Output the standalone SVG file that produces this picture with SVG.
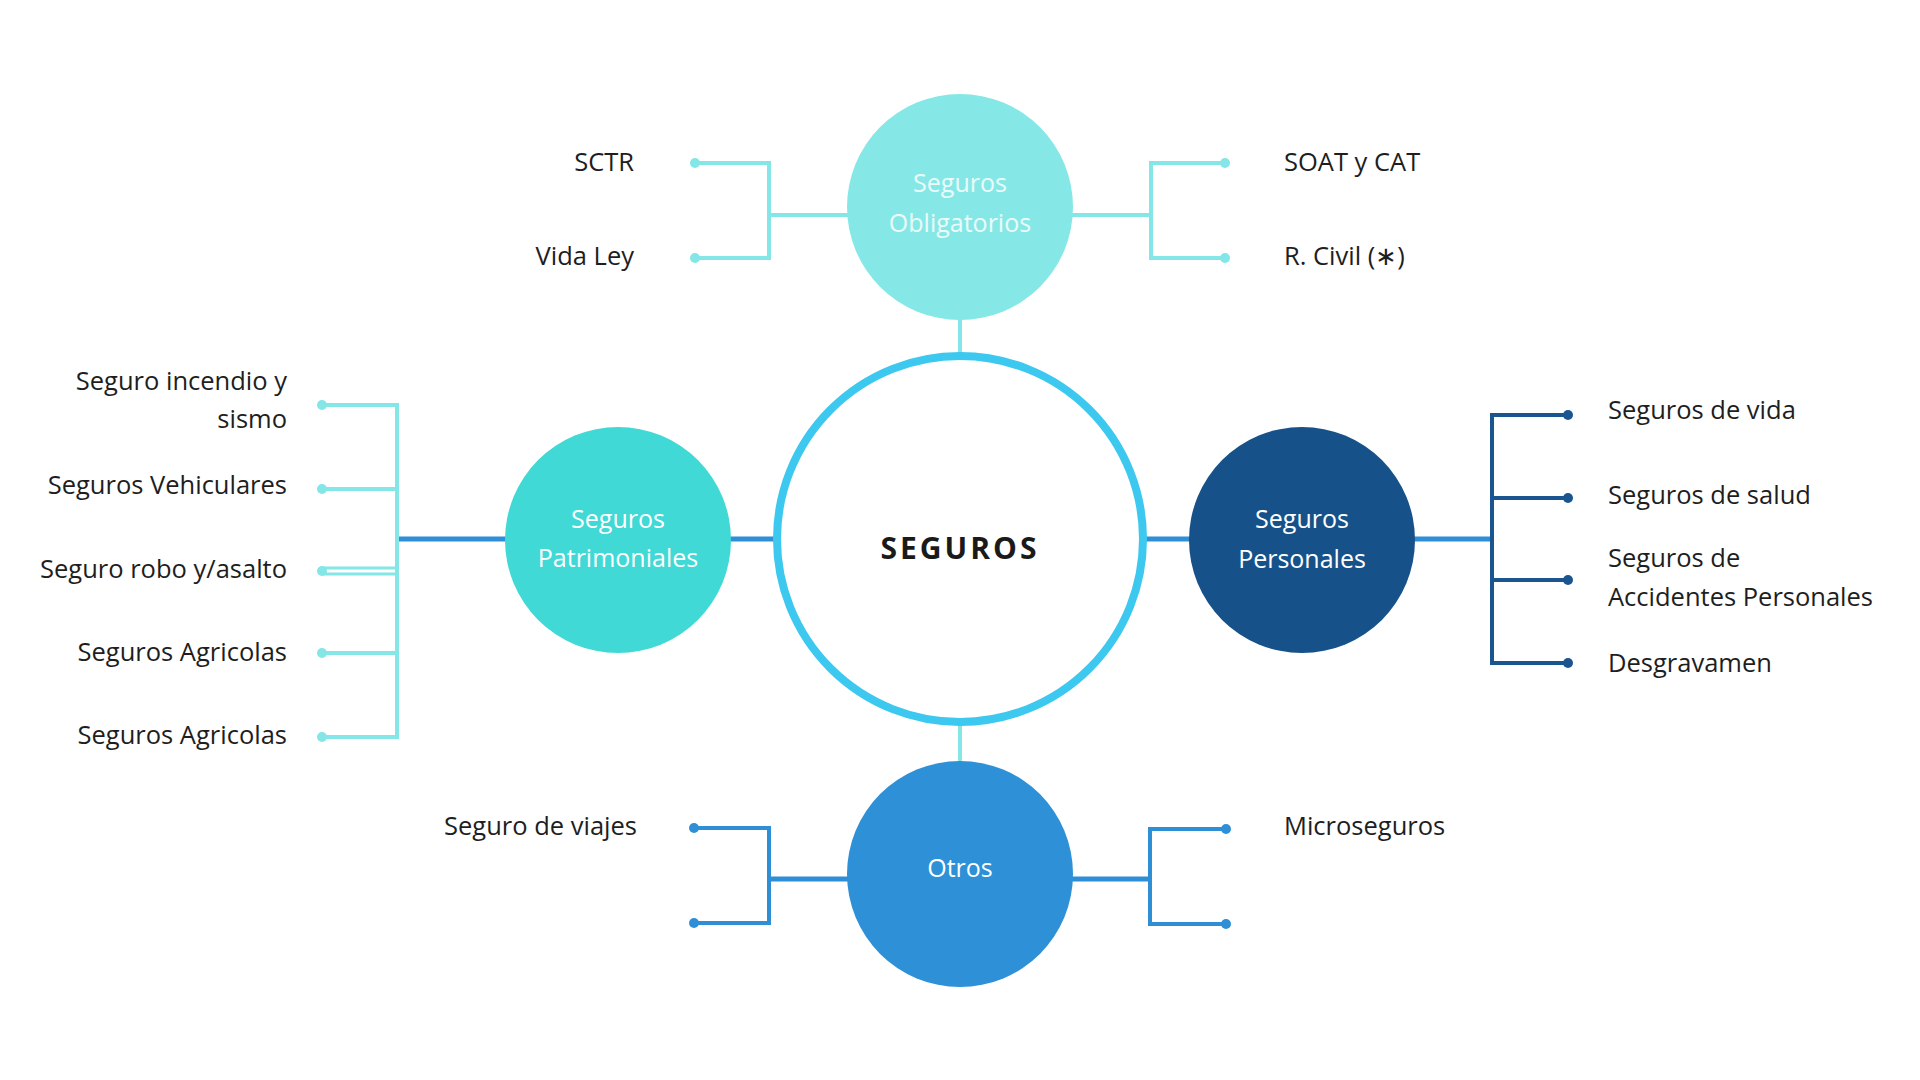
<svg xmlns="http://www.w3.org/2000/svg" width="1920" height="1080" viewBox="0 0 1920 1080">
<style>
.lbl{font-family:"Open Sans","Liberation Sans",sans-serif;font-size:25.5px;fill:#1e1e1e}
.ct{font-family:"Open Sans","Liberation Sans",sans-serif;font-size:25px;fill:#ffffff;text-anchor:middle}
.cyan{stroke:#84E6E6;stroke-width:4;fill:none}
.blue{stroke:#2E8FD6;stroke-width:4;fill:none}
.navy{stroke:#1A5590;stroke-width:4;fill:none}
.dc{fill:#84E6E6}.db{fill:#2E8FD6}.dn{fill:#1A5590}
</style>
<rect width="1920" height="1080" fill="#ffffff"/>
<g id="connectors">
  <line class="cyan" x1="960" y1="318" x2="960" y2="356"/>
  <polyline class="cyan" points="695,163 769,163 769,258 695,258"/>
  <line class="cyan" x1="769" y1="215" x2="850" y2="215"/>
  <polyline class="cyan" points="1225,163 1151,163 1151,258 1225,258"/>
  <line class="cyan" x1="1070" y1="215" x2="1151" y2="215"/>
  <circle class="dc" cx="695" cy="163" r="5"/><circle class="dc" cx="695" cy="258" r="5"/>
  <circle class="dc" cx="1225" cy="163" r="5"/><circle class="dc" cx="1225" cy="258" r="5"/>
  <line class="cyan" x1="960" y1="722" x2="960" y2="764"/>
  <polyline class="blue" points="694,828 769,828 769,923 694,923"/>
  <line class="blue" x1="769" y1="879" x2="850" y2="879" style="stroke-width:5"/>
  <polyline class="blue" points="1226,829 1150,829 1150,924 1226,924"/>
  <line class="blue" x1="1070" y1="879" x2="1150" y2="879" style="stroke-width:5"/>
  <circle class="db" cx="694" cy="828" r="5"/><circle class="db" cx="694" cy="923" r="5"/>
  <circle class="db" cx="1226" cy="829" r="5"/><circle class="db" cx="1226" cy="924" r="5"/>
  <line class="blue" x1="397" y1="539" x2="510" y2="539" style="stroke-width:5"/>
  <line class="blue" x1="728" y1="539" x2="776" y2="539" style="stroke-width:5"/>
  <polyline class="cyan" points="322,405 397,405 397,737 322,737"/>
  <line class="cyan" x1="322" y1="489" x2="397" y2="489"/>
  <line class="cyan" x1="322" y1="568" x2="397" y2="568" style="stroke-width:3"/>
  <line class="cyan" x1="322" y1="574" x2="397" y2="574" style="stroke-width:3"/>
  <line class="cyan" x1="322" y1="653" x2="397" y2="653"/>
  <circle class="dc" cx="322" cy="405" r="5"/><circle class="dc" cx="322" cy="489" r="5"/>
  <circle class="dc" cx="322" cy="571" r="5"/><circle class="dc" cx="322" cy="653" r="5"/>
  <circle class="dc" cx="322" cy="737" r="5"/>
  <line class="blue" x1="1144" y1="539" x2="1192" y2="539" style="stroke-width:5"/>
  <line class="blue" x1="1410" y1="539" x2="1492" y2="539" style="stroke-width:5"/>
  <polyline class="navy" points="1568,415 1492,415 1492,663 1568,663"/>
  <line class="navy" x1="1492" y1="498" x2="1568" y2="498"/>
  <line class="navy" x1="1492" y1="580" x2="1568" y2="580"/>
  <circle class="dn" cx="1568" cy="415" r="5"/><circle class="dn" cx="1568" cy="498" r="5"/>
  <circle class="dn" cx="1568" cy="580" r="5"/><circle class="dn" cx="1568" cy="663" r="5"/>
</g>
<g id="seguros">
  <circle cx="960" cy="539" r="183" fill="#ffffff" stroke="#3CC8EF" stroke-width="8"/>
  <text x="960" y="559" text-anchor="middle" font-family="'Open Sans','Liberation Sans',sans-serif" font-size="30" font-weight="bold" letter-spacing="3" fill="#1a1a1a">SEGUROS</text>
</g>
<g id="obligatorios">
  <circle cx="960" cy="207" r="113" fill="#86E8E6"/>
  <text class="ct" x="960" y="192" style="fill:#EAFBFA">Seguros</text>
  <text class="ct" x="960" y="232" style="fill:#EAFBFA">Obligatorios</text>
</g>
<g id="patrimoniales">
  <circle cx="618" cy="540" r="113" fill="#40D9D6"/>
  <text class="ct" x="618" y="528">Seguros</text>
  <text class="ct" x="618" y="567">Patrimoniales</text>
</g>
<g id="personales">
  <circle cx="1302" cy="540" r="113" fill="#165289"/>
  <text class="ct" x="1302" y="528">Seguros</text>
  <text class="ct" x="1302" y="568">Personales</text>
</g>
<g id="otros">
  <circle cx="960" cy="874" r="113" fill="#2E90D6"/>
  <text class="ct" x="960" y="877">Otros</text>
</g>
<g id="labels">
  <text class="lbl" x="634" y="171" text-anchor="end">SCTR</text>
  <text class="lbl" x="634" y="265" text-anchor="end">Vida Ley</text>
  <text class="lbl" x="1284" y="171">SOAT y CAT</text>
  <text class="lbl" x="1284" y="265">R. Civil (∗)</text>
  <text class="lbl" x="287" y="390" text-anchor="end">Seguro incendio y</text>
  <text class="lbl" x="287" y="428" text-anchor="end">sismo</text>
  <text class="lbl" x="287" y="494" text-anchor="end">Seguros Vehiculares</text>
  <text class="lbl" x="287" y="578" text-anchor="end">Seguro robo y/asalto</text>
  <text class="lbl" x="287" y="661" text-anchor="end">Seguros Agricolas</text>
  <text class="lbl" x="287" y="744" text-anchor="end">Seguros Agricolas</text>
  <text class="lbl" x="1608" y="419">Seguros de vida</text>
  <text class="lbl" x="1608" y="504">Seguros de salud</text>
  <text class="lbl" x="1608" y="567">Seguros de</text>
  <text class="lbl" x="1608" y="606">Accidentes Personales</text>
  <text class="lbl" x="1608" y="672">Desgravamen</text>
  <text class="lbl" x="637" y="835" text-anchor="end">Seguro de viajes</text>
  <text class="lbl" x="1284" y="835">Microseguros</text>
</g>
</svg>
